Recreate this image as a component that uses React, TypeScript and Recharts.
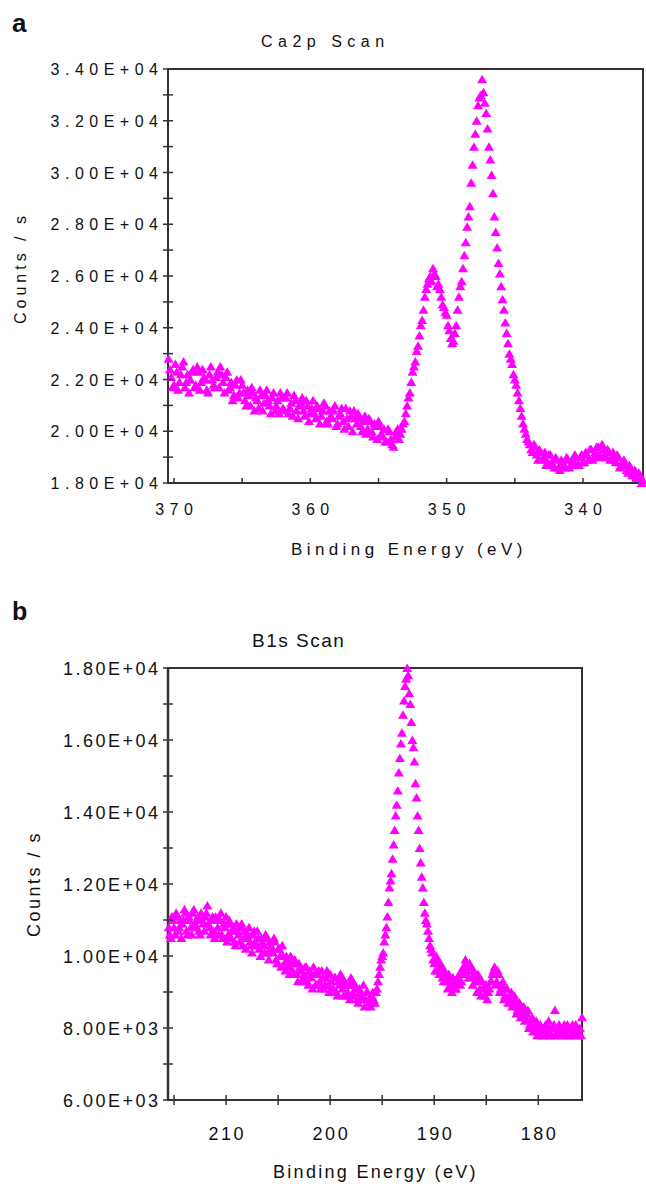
import React from 'react';
import { ScatterChart, Scatter, XAxis, YAxis, ReferenceArea } from 'recharts';

const FONT = '"Liberation Sans", Arial, Helvetica, sans-serif';
const MAGENTA = '#FF00FF';
const AXIS = '#333333';

// ---------- Panel a: Ca2p scan ----------
const ca2pEnergy = [
  370.4, 370.2, 370.0, 369.8, 369.6, 369.4, 369.2, 369.0, 368.8, 368.6,
  368.4, 368.2, 368.0, 367.8, 367.6, 367.4, 367.2, 367.0, 366.8, 366.6,
  366.4, 366.2, 366.0, 365.8, 365.6, 365.4, 365.2, 365.0, 364.8, 364.6,
  364.4, 364.2, 364.0, 363.8, 363.6, 363.4, 363.2, 363.0, 362.8, 362.6,
  362.4, 362.2, 362.0, 361.8, 361.6, 361.4, 361.2, 361.0, 360.8, 360.6,
  360.4, 360.2, 360.0, 359.8, 359.6, 359.4, 359.2, 359.0, 358.8, 358.6,
  358.4, 358.2, 358.0, 357.8, 357.6, 357.4, 357.2, 357.0, 356.8, 356.6,
  356.4, 356.2, 356.0, 355.8, 355.6, 355.4, 355.2, 355.0, 354.8, 354.6,
  354.4, 354.2, 354.0, 353.8, 353.6, 353.4, 353.2, 353.0, 352.8, 352.6,
  352.4, 352.2, 352.0, 351.8, 351.6, 351.4, 351.2, 351.0, 350.8, 350.6,
  350.4, 350.2, 350.0, 349.8, 349.6, 349.4, 349.2, 349.0, 348.8, 348.6,
  348.4, 348.2, 348.0, 347.8, 347.6, 347.4, 347.2, 347.0, 346.8, 346.6,
  346.4, 346.2, 346.0, 345.8, 345.6, 345.4, 345.2, 345.0, 344.8, 344.6,
  344.4, 344.2, 344.0, 343.8, 343.6, 343.4, 343.2, 343.0, 342.8, 342.6,
  342.4, 342.2, 342.0, 341.8, 341.6, 341.4, 341.2, 341.0, 340.8, 340.6,
  340.4, 340.2, 340.0, 339.8, 339.6, 339.4, 339.2, 339.0, 338.8, 338.6,
  338.4, 338.2, 338.0, 337.8, 337.6, 337.4, 337.2, 337.0, 336.8, 336.6,
  336.4, 336.2, 336.0, 335.8, 335.6,
];
const ca2pCounts = [
  22800, 22100, 21800, 22300, 21900, 22500, 21700, 22200, 22000, 22400,
  21800, 22300, 21900, 22100, 21600, 22200, 22000, 21700, 22300, 22500,
  21900, 22100, 21600, 21900, 21400, 22000, 21500, 21800, 21200, 21600,
  21000, 21500, 21300, 20900, 21400, 21100, 21600, 21000, 21300, 20800,
  21200, 21500, 20900, 21300, 20700, 21100, 21400, 20800, 21000, 21300,
  20600, 21000, 20700, 21200, 20500, 20900, 20600, 21100, 20400, 20800,
  20500, 21000, 20300, 20700, 20400, 20900, 20200, 20600, 20800, 20300,
  20500, 20000, 20600, 20100, 20400, 19800, 20200, 20400, 19900, 20100,
  19600, 20000, 19500, 19800, 20100, 19900, 20300, 20700, 21300, 21900,
  22500, 23100, 23700, 24300, 25200, 25700, 26000, 26300, 26000, 25700,
  25200, 24800, 24500, 23900, 23400, 23800, 24700, 25600, 26300, 27300,
  28300, 29600, 31000, 32000, 32900, 33600, 32700, 31700, 30500, 29200,
  27700, 26500, 25600, 24700, 23800, 23000, 22600, 22000, 21500, 20900,
  20300, 19900, 19600, 19300, 19500, 19100, 19300, 18900, 19200, 18800,
  19100, 18700, 19000, 18600, 18900, 18700, 19000, 18600, 18900, 19100,
  18700, 19000, 18800, 19200, 18900, 19300, 19000, 19400, 19100, 19500,
  19100, 19300, 18900, 19200, 18800, 19000, 18700, 18900, 18500, 18700,
  18300, 18500, 18200, 18300, 18100,
];
// readings between the main grid, across the background
const ca2pBgEnergy = [
  370.3, 370.1, 369.9, 369.7, 369.5, 369.3, 369.1, 368.9, 368.7, 368.5,
  368.3, 368.1, 367.9, 367.7, 367.5, 367.3, 367.1, 366.9, 366.7, 366.5,
  366.3, 366.1, 365.9, 365.7, 365.5, 365.3, 365.1, 364.9, 364.7, 364.5,
  364.3, 364.1, 363.9, 363.7, 363.5, 363.3, 363.1, 362.9, 362.7, 362.5,
  362.3, 362.1, 361.9, 361.7, 361.5, 361.3, 361.1, 360.9, 360.7, 360.5,
  360.3, 360.1, 359.9, 359.7, 359.5, 359.3, 359.1, 358.9, 358.7, 358.5,
  358.3, 358.1, 357.9, 357.7, 357.5, 357.3, 357.1, 356.9, 356.7, 356.5,
  356.3, 356.1, 355.9, 355.7, 355.5, 355.3, 355.1, 354.9, 354.7, 354.5,
  354.3, 354.1, 353.9, 353.7, 353.5,
  344.1, 343.9, 343.7, 343.5, 343.3, 343.1, 342.9, 342.7, 342.5, 342.3,
  342.1, 341.9, 341.7, 341.5, 341.3, 341.1, 340.9, 340.7, 340.5, 340.3,
  340.1, 339.9, 339.7, 339.5, 339.3, 339.1, 338.9, 338.7, 338.5, 338.3,
  338.1, 337.9, 337.7, 337.5, 337.3, 337.1, 336.9, 336.7, 336.5, 336.3,
  336.1, 335.9, 335.7,
];
const ca2pBgCounts = [
  22400, 21700, 22600, 21600, 22200, 22700, 21900, 21500, 22300, 21700,
  22500, 21600, 22400, 22000, 21500, 22500, 21800, 22100, 21700, 22200,
  21500, 22300, 21700, 21200, 21800, 21300, 22000, 21500, 21000, 21400,
  21700, 20800, 21200, 21600, 20800, 21400, 21200, 20700, 21500, 21000,
  20700, 21300, 20800, 21500, 20900, 20600, 21200, 20500, 21100, 20800,
  21200, 20400, 20900, 20700, 21000, 20300, 20800, 21000, 20300, 20600,
  20800, 20200, 20600, 20900, 20100, 20500, 20800, 20000, 20500, 20700,
  20200, 20400, 19900, 20500, 20000, 20300, 19700, 20200, 19800, 19600,
  20100, 19700, 19400, 20000, 19700,
  19700, 19500, 19200, 19400, 18900, 19200, 19000, 18700, 19100, 18800,
  18600, 18900, 18500, 18800, 18600, 18900, 18700, 18800, 19000, 18700,
  19100, 18800, 19100, 19300, 18900, 19200, 19400, 19000, 19300, 19000,
  19200, 19000, 18900, 19100, 18600, 18800, 18700, 18400, 18600, 18400,
  18200, 18400, 18000,
];
// readings across the two Ca2p peaks
const ca2pPeakEnergy = [
  353.3, 353.1, 352.9, 352.7, 352.5, 352.3, 352.1, 351.9, 351.7, 351.5,
  351.3, 351.1, 350.9, 350.7, 350.5, 350.3, 350.1, 349.9, 349.7, 349.5,
  349.3, 349.1, 348.9, 348.7, 348.5, 348.3, 348.1, 347.9, 347.7, 347.5,
  347.3, 347.1, 346.9, 346.7, 346.5, 346.3, 346.1, 345.9, 345.7, 345.5,
  345.3, 345.1, 344.9, 344.7, 344.5, 344.3,
];
const ca2pPeakCounts = [
  20100, 20400, 21000, 21500, 22300, 22700, 23300, 24100, 24700, 25500,
  25900, 25800, 26100, 25600, 25500, 24900, 24600, 24100, 23600, 23500,
  24100, 25200, 25800, 26800, 27900, 28700, 30300, 31500, 32600, 33000,
  33100, 32300, 31000, 29900, 28300, 27100, 26100, 25100, 24200, 23400,
  22800, 22200, 21800, 21200, 20600, 20100,
];
const ca2pXTicks = [340, 345, 350, 355, 360, 365, 370];
const ca2pXLabels = [340, 350, 360, 370];
const ca2pYTicks = [18000, 19000, 20000, 21000, 22000, 23000, 24000, 25000, 26000, 27000, 28000, 29000, 30000, 31000, 32000, 33000, 34000];
const ca2pYLabels = [18000, 20000, 22000, 24000, 26000, 28000, 30000, 32000, 34000];

// ---------- Panel b: B1s scan ----------
const b1sEnergy = [
  215.4, 215.2, 215.0, 214.8, 214.6, 214.4, 214.2, 214.0, 213.8, 213.6,
  213.4, 213.2, 213.0, 212.8, 212.6, 212.4, 212.2, 212.0, 211.8, 211.6,
  211.4, 211.2, 211.0, 210.8, 210.6, 210.4, 210.2, 210.0, 209.8, 209.6,
  209.4, 209.2, 209.0, 208.8, 208.6, 208.4, 208.2, 208.0, 207.8, 207.6,
  207.4, 207.2, 207.0, 206.8, 206.6, 206.4, 206.2, 206.0, 205.8, 205.6,
  205.4, 205.2, 205.0, 204.8, 204.6, 204.4, 204.2, 204.0, 203.8, 203.6,
  203.4, 203.2, 203.0, 202.8, 202.6, 202.4, 202.2, 202.0, 201.8, 201.6,
  201.4, 201.2, 201.0, 200.8, 200.6, 200.4, 200.2, 200.0, 199.8, 199.6,
  199.4, 199.2, 199.0, 198.8, 198.6, 198.4, 198.2, 198.0, 197.8, 197.6,
  197.4, 197.2, 197.0, 196.8, 196.6, 196.4, 196.2, 196.0, 195.8, 195.6,
  195.4, 195.2, 195.0, 194.8, 194.6, 194.4, 194.2, 194.0, 193.8, 193.6,
  193.4, 193.2, 193.0, 192.8, 192.6, 192.4, 192.2, 192.0, 191.8, 191.6,
  191.4, 191.2, 191.0, 190.8, 190.6, 190.4, 190.2, 190.0, 189.8, 189.6,
  189.4, 189.2, 189.0, 188.8, 188.6, 188.4, 188.2, 188.0, 187.8, 187.6,
  187.4, 187.2, 187.0, 186.8, 186.6, 186.4, 186.2, 186.0, 185.8, 185.6,
  185.4, 185.2, 185.0, 184.8, 184.6, 184.4, 184.2, 184.0, 183.8, 183.6,
  183.4, 183.2, 183.0, 182.8, 182.6, 182.4, 182.2, 182.0, 181.8, 181.6,
  181.4, 181.2, 181.0, 180.8, 180.6, 180.4, 180.2, 180.0, 179.8, 179.6,
  179.4, 179.2, 179.0, 178.8, 178.6, 178.4, 178.2, 178.0, 177.8, 177.6,
  177.4, 177.2, 177.0, 176.8, 176.6, 176.4, 176.2, 176.0, 175.8,
];
const b1sCounts = [
  10600, 11100, 10800, 11200, 10700, 11000, 10900, 11300, 10700, 11100,
  10800, 11200, 10900, 11000, 10700, 11200, 10900, 11100, 11400, 10800,
  11000, 10700, 11100, 10800, 11000, 10600, 10900, 11100, 10600, 10900,
  10700, 10400, 10900, 10600, 10800, 10300, 10700, 10500, 10800, 10300,
  10600, 10400, 10700, 10200, 10500, 10300, 10600, 10100, 10400, 10200,
  10500, 9900, 10200, 10000, 10300, 9800, 10000, 9700, 10000, 9600,
  9900, 9500, 9800, 9600, 9400, 9700, 9300, 9600, 9400, 9700,
  9200, 9500, 9300, 9600, 9100, 9400, 9200, 9500, 9100, 9400,
  9000, 9300, 9500, 9100, 9300, 8900, 9200, 9400, 9000, 9200,
  8800, 9100, 8900, 9200, 8800, 9000, 8700, 8900, 8800, 9000,
  9300, 9700, 10000, 10400, 10800, 11500, 12100, 12700, 13500, 14200,
  15100, 15900, 16700, 17500, 18000, 17300, 16500, 15800, 14800, 13900,
  13000, 12200, 11500, 11000, 10700, 10300, 10100, 9800, 10000, 9600,
  9800, 9400, 9600, 9300, 9500, 9200, 9400, 9100, 9300, 9500,
  9300, 9700, 9900, 9600, 9800, 9400, 9600, 9300, 9500, 9100,
  9300, 8900, 9200, 9000, 9300, 9500, 9700, 9300, 9500, 9100,
  9300, 8900, 9100, 8800, 9000, 8700, 8800, 8500, 8700, 8400,
  8600, 8300, 8500, 8100, 8300, 8000, 8200, 7900, 8100, 7800,
  8000, 7900, 8200, 7800, 8000, 8500, 7900, 8100, 7800, 8000,
  7900, 8100, 7800, 8000, 7900, 8100, 7800, 8000, 8300,
];
// readings between the main grid, across the background
const b1sBgEnergy = [
  215.5, 215.3, 215.1, 214.9, 214.7, 214.5, 214.3, 214.1, 213.9, 213.7,
  213.5, 213.3, 213.1, 212.9, 212.7, 212.5, 212.3, 212.1, 211.9, 211.7,
  211.5, 211.3, 211.1, 210.9, 210.7, 210.5, 210.3, 210.1, 209.9, 209.7,
  209.5, 209.3, 209.1, 208.9, 208.7, 208.5, 208.3, 208.1, 207.9, 207.7,
  207.5, 207.3, 207.1, 206.9, 206.7, 206.5, 206.3, 206.1, 205.9, 205.7,
  205.5, 205.3, 205.1, 204.9, 204.7, 204.5, 204.3, 204.1, 203.9, 203.7,
  203.5, 203.3, 203.1, 202.9, 202.7, 202.5, 202.3, 202.1, 201.9, 201.7,
  201.5, 201.3, 201.1, 200.9, 200.7, 200.5, 200.3, 200.1, 199.9, 199.7,
  199.5, 199.3, 199.1, 198.9, 198.7, 198.5, 198.3, 198.1, 197.9, 197.7,
  197.5, 197.3, 197.1, 196.9, 196.7, 196.5, 196.3, 196.1, 195.9, 195.7,
  190.1, 189.9, 189.7, 189.5, 189.3, 189.1, 188.9, 188.7, 188.5, 188.3,
  188.1, 187.9, 187.7, 187.5, 187.3, 187.1, 186.9, 186.7, 186.5, 186.3,
  186.1, 185.9, 185.7, 185.5, 185.3, 185.1, 184.9, 184.7, 184.5, 184.3,
  184.1, 183.9, 183.7, 183.5, 183.3, 183.1, 182.9, 182.7, 182.5, 182.3,
  182.1, 181.9, 181.7, 181.5, 181.3, 181.1, 180.9, 180.7, 180.5, 180.3,
  180.1, 179.9, 179.7, 179.5, 179.3, 179.1, 178.9, 178.7, 178.5, 178.3,
  178.1, 177.9, 177.7, 177.5, 177.3, 177.1, 176.9, 176.7, 176.5, 176.3,
  176.1, 175.9,
];
const b1sBgCounts = [
  10800, 10500, 11000, 10600, 11100, 10800, 10500, 11000, 11200, 10600,
  11000, 10600, 11300, 10800, 11100, 10600, 11000, 10700, 11200, 10900,
  10600, 11100, 10500, 11000, 10600, 11200, 10500, 10800, 10400, 11000,
  10500, 10800, 10300, 10700, 10400, 10900, 10500, 10200, 10600, 10400,
  10100, 10700, 10300, 10500, 10000, 10400, 10100, 10500, 9900, 10300,
  10100, 10400, 9800, 10200, 9700, 10000, 9600, 9900, 9500, 9800,
  9500, 9800, 9300, 9700, 9300, 9500, 9700, 9200, 9500, 9100,
  9500, 9200, 9600, 9100, 9400, 9200, 9600, 9000, 9300, 9100,
  9400, 8900, 9200, 9400, 8900, 9200, 9000, 8800, 9300, 8900,
  9100, 8700, 9000, 8800, 8600, 9000, 8800, 8600, 9000, 8700,
  9900, 9600, 9900, 9500, 9700, 9300, 9500, 9100, 9400, 9000,
  9300, 9100, 9400, 9200, 9600, 9500, 9800, 9400, 9700, 9200,
  9500, 9000, 9400, 8900, 9100, 9200, 8800, 9100, 9300, 9600,
  9200, 9600, 9000, 9200, 8800, 9100, 8700, 8900, 8600, 8900,
  8400, 8600, 8300, 8500, 8200, 8400, 8000, 8200, 7900, 8100,
  7800, 8000, 7900, 7800, 8100, 7800, 8000, 7800, 8100, 7800,
  8000, 7900, 7800, 8100, 7800, 8000, 7800, 8100, 7800, 8000,
  7900, 7800,
];
// readings across the B1s peak
const b1sPeakEnergy = [
  195.5, 195.3, 195.1, 194.9, 194.7, 194.5, 194.3, 194.1, 193.9, 193.7,
  193.5, 193.3, 193.1, 192.9, 192.7, 192.5, 192.3, 192.1, 191.9, 191.7,
  191.5, 191.3, 191.1, 190.9, 190.7, 190.5, 190.3,
];
const b1sPeakCounts = [
  9100, 9500, 9900, 10100, 10600, 11100, 11900, 12300, 13100, 13900,
  14600, 15500, 16200, 17100, 17700, 17800, 17000, 16000, 15400, 14400,
  13500, 12600, 11900, 11200, 10900, 10500, 10200,
];
const b1sXTicks = [180, 185, 190, 195, 200, 205, 210, 215];
const b1sXLabels = [180, 190, 200, 210];
const b1sYTicks = [6000, 7000, 8000, 9000, 10000, 11000, 12000, 13000, 14000, 15000, 16000, 17000, 18000];
const b1sYLabels = [6000, 8000, 10000, 12000, 14000, 16000, 18000];

const pair = (es: number[], cs: number[]) => es.map((e, i) => ({ e, c: cs[i] }));
const ca2pData = [
  ...pair(ca2pEnergy, ca2pCounts),
  ...pair(ca2pBgEnergy, ca2pBgCounts),
  ...pair(ca2pPeakEnergy, ca2pPeakCounts),
];
const b1sData = [
  ...pair(b1sEnergy, b1sCounts),
  ...pair(b1sBgEnergy, b1sBgCounts),
  ...pair(b1sPeakEnergy, b1sPeakCounts),
];

const fmtSci = (v: number) => {
  const [m, ex] = v.toExponential(2).split('e');
  const n = parseInt(ex, 10);
  return `${m}E${n < 0 ? '-' : '+'}${String(Math.abs(n)).padStart(2, '0')}`;
};

const triangle = (p: any) => {
  const { cx, cy } = p;
  if (cx == null || cy == null) return <g />;
  return <polygon points={`${cx},${cy - 4.5} ${cx + 5},${cy + 4} ${cx - 5},${cy + 4}`} fill={MAGENTA} />;
};

// Panel a styling
const LSA = 5.5;
const FSA = 16;
const xTickA = (p: any) => {
  const { x, y, payload } = p;
  const v = payload.value;
  return (
    <g>
      <line x1={x} x2={x} y1={y} y2={y - 5} stroke={AXIS} strokeWidth={1.5} />
      {ca2pXLabels.includes(v) && (
        <text x={x + LSA / 2} y={y + 32} textAnchor="middle" fontFamily={FONT} fontSize={FSA} fill="#111" style={{ letterSpacing: `${LSA}px` }}>
          {v}
        </text>
      )}
    </g>
  );
};
const yTickA = (p: any) => {
  const { x, y, payload } = p;
  const v = payload.value;
  return (
    <g>
      <line x1={x - 5} x2={x + 5} y1={y} y2={y} stroke={AXIS} strokeWidth={1.5} />
      {ca2pYLabels.includes(v) && (
        <text x={x - 10 + LSA} y={y + 6} textAnchor="end" fontFamily={FONT} fontSize={FSA} fill="#111" style={{ letterSpacing: `${LSA}px` }}>
          {fmtSci(v)}
        </text>
      )}
    </g>
  );
};

// Panel b styling
const LSB = 2.5;
const FSB = 18;
const xTickB = (p: any) => {
  const { x, y, payload } = p;
  const v = payload.value;
  return (
    <g>
      <line x1={x} x2={x} y1={y - 5} y2={y + 5} stroke={AXIS} strokeWidth={1.5} />
      {b1sXLabels.includes(v) && (
        <text x={x + LSB / 2} y={y + 40} textAnchor="middle" fontFamily={FONT} fontSize={FSB} fill="#111" style={{ letterSpacing: `${LSB}px` }}>
          {v}
        </text>
      )}
    </g>
  );
};
const yTickB = (p: any) => {
  const { x, y, payload } = p;
  const v = payload.value;
  return (
    <g>
      <line x1={x - 5} x2={x + 5} y1={y} y2={y} stroke={AXIS} strokeWidth={1.5} />
      {b1sYLabels.includes(v) && (
        <text x={x - 10 + LSB} y={y + 6.5} textAnchor="end" fontFamily={FONT} fontSize={FSB} fill="#111" style={{ letterSpacing: `${LSB}px` }}>
          {fmtSci(v)}
        </text>
      )}
    </g>
  );
};

export default function App() {
  return (
    <div style={{ position: 'absolute', left: 0, top: 0, width: 646, height: 1184, background: '#fff', overflow: 'hidden' }}>
      <div style={{ position: 'absolute', left: 0, top: 0 }}>
        <ScatterChart width={646} height={600} margin={{ top: 69, right: 3, bottom: 87, left: 108 }}>
          <XAxis
            type="number"
            dataKey="e"
            domain={[335.6, 370.44]}
            reversed
            ticks={ca2pXTicks}
            interval={0}
            tickSize={0}
            tickMargin={0}
            height={30}
            axisLine={{ stroke: AXIS, strokeWidth: 2 }}
            tickLine={false}
            tick={xTickA}
          />
          <YAxis
            type="number"
            dataKey="c"
            domain={[18000, 34000]}
            ticks={ca2pYTicks}
            interval={0}
            tickSize={0}
            tickMargin={0}
            width={60}
            axisLine={{ stroke: AXIS, strokeWidth: 2 }}
            tickLine={false}
            tick={yTickA}
          />
          <ReferenceArea x1={335.6} x2={370.44} y1={18000} y2={34000} fill="none" fillOpacity={0} stroke={AXIS} strokeWidth={2} />
          <Scatter data={ca2pData} shape={triangle} isAnimationActive={false} />
        </ScatterChart>
      </div>
      <div style={{ position: 'absolute', left: 0, top: 600 }}>
        <ScatterChart width={646} height={584} margin={{ top: 68, right: 64, bottom: 54, left: 108 }}>
          <XAxis
            type="number"
            dataKey="e"
            domain={[175.8, 215.58]}
            reversed
            ticks={b1sXTicks}
            interval={0}
            tickSize={0}
            tickMargin={0}
            height={30}
            axisLine={{ stroke: AXIS, strokeWidth: 2 }}
            tickLine={false}
            tick={xTickB}
          />
          <YAxis
            type="number"
            dataKey="c"
            domain={[6000, 18000]}
            ticks={b1sYTicks}
            interval={0}
            tickSize={0}
            tickMargin={0}
            width={60}
            axisLine={{ stroke: AXIS, strokeWidth: 2.5 }}
            tickLine={false}
            tick={yTickB}
          />
          <ReferenceArea x1={175.8} x2={215.58} y1={6000} y2={18000} fill="none" fillOpacity={0} stroke={AXIS} strokeWidth={2} />
          <Scatter data={b1sData} shape={triangle} isAnimationActive={false} />
        </ScatterChart>
      </div>
      <svg width={646} height={1184} style={{ position: 'absolute', left: 0, top: 0, pointerEvents: 'none' }}>
        <text x={12} y={32} fontFamily={FONT} fontSize={26} fontWeight="bold" fill="#111">a</text>
        <text x={261} y={47} fontFamily={FONT} fontSize={16} fill="#111" style={{ letterSpacing: '5.5px' }}>Ca2p Scan</text>
        <text x={0} y={0} transform="translate(26,268) rotate(-90)" textAnchor="middle" fontFamily={FONT} fontSize={16} fill="#111" style={{ letterSpacing: '4px' }}>Counts / s</text>
        <text x={291} y={555} fontFamily={FONT} fontSize={17} fill="#111" style={{ letterSpacing: '4.4px' }}>Binding Energy (eV)</text>

        <text x={12} y={620} fontFamily={FONT} fontSize={25} fontWeight="bold" fill="#111">b</text>
        <text x={252} y={647} fontFamily={FONT} fontSize={19} fill="#111" style={{ letterSpacing: '1.5px' }}>B1s Scan</text>
        <text x={0} y={0} transform="translate(40,884) rotate(-90)" textAnchor="middle" fontFamily={FONT} fontSize={18} fill="#111" style={{ letterSpacing: '2.5px' }}>Counts / s</text>
        <text x={273} y={1178} fontFamily={FONT} fontSize={18} fill="#111" style={{ letterSpacing: '2.3px' }}>Binding Energy (eV)</text>
      </svg>
    </div>
  );
}
